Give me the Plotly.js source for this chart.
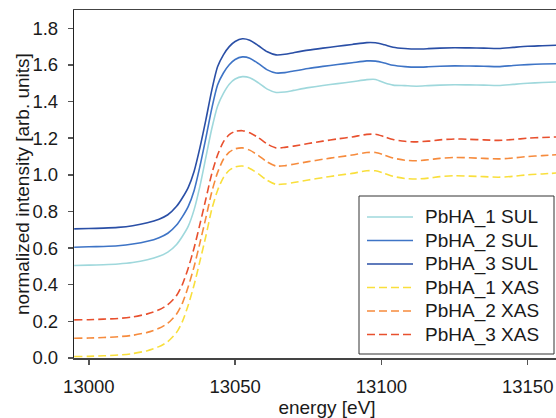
<!DOCTYPE html>
<html>
<head>
<meta charset="utf-8">
<script src="https://cdn.plot.ly/plotly-3.0.1.min.js"></script>
<style>
html,body{margin:0;padding:0;overflow:hidden;background:#fff;}
#chart{width:600px;height:418px;}
</style>
</head>
<body>
<div id="chart"></div>
<script>
const energy = [12995,13000,13005,13010,13015,13020,13024,13027,13030,13032,13034,13036,13038,13040,13042,13044,13046,13048,13050,13052.5,13055,13058,13061,13064,13067,13070,13075,13080,13085,13090,13095,13098,13101,13104,13108,13112,13116,13120,13125,13130,13135,13140,13145,13150,13155,13160];

const pbha1Sul = [0.505,0.507,0.509,0.513,0.521,0.536,0.555,0.578,0.620,0.665,0.720,0.810,0.940,1.095,1.250,1.375,1.445,1.495,1.523,1.536,1.530,1.502,1.468,1.450,1.452,1.461,1.476,1.488,1.498,1.508,1.520,1.521,1.503,1.490,1.487,1.484,1.487,1.490,1.492,1.491,1.490,1.488,1.494,1.500,1.504,1.507];
const pbha2Sul = [0.605,0.607,0.609,0.613,0.622,0.637,0.657,0.681,0.726,0.772,0.828,0.915,1.048,1.200,1.360,1.490,1.556,1.601,1.630,1.644,1.637,1.607,1.573,1.556,1.558,1.567,1.581,1.592,1.602,1.612,1.622,1.621,1.611,1.598,1.591,1.588,1.590,1.593,1.595,1.594,1.593,1.591,1.597,1.602,1.605,1.607];
const pbha3Sul = [0.705,0.707,0.709,0.713,0.722,0.738,0.758,0.782,0.828,0.875,0.932,1.020,1.150,1.300,1.460,1.590,1.655,1.700,1.728,1.743,1.735,1.705,1.672,1.655,1.658,1.667,1.681,1.692,1.702,1.712,1.722,1.721,1.710,1.697,1.690,1.687,1.689,1.692,1.694,1.693,1.692,1.690,1.696,1.702,1.705,1.708];
const pbha1Xas = [0.008,0.009,0.012,0.016,0.024,0.040,0.062,0.090,0.140,0.200,0.290,0.400,0.530,0.665,0.810,0.915,0.985,1.025,1.043,1.048,1.035,1.005,0.970,0.948,0.950,0.958,0.972,0.985,0.997,1.008,1.022,1.022,1.008,0.992,0.980,0.977,0.982,0.990,0.995,0.993,0.990,0.987,0.992,1.000,1.005,1.010];
const pbha2Xas = [0.108,0.109,0.112,0.116,0.124,0.140,0.162,0.190,0.240,0.300,0.390,0.500,0.630,0.765,0.905,1.012,1.085,1.124,1.142,1.147,1.135,1.105,1.070,1.048,1.050,1.058,1.072,1.085,1.097,1.108,1.122,1.122,1.108,1.092,1.080,1.077,1.082,1.090,1.095,1.093,1.090,1.087,1.092,1.100,1.105,1.110];
const pbha3Xas = [0.208,0.209,0.212,0.216,0.224,0.241,0.263,0.291,0.341,0.402,0.492,0.602,0.732,0.868,1.005,1.108,1.180,1.220,1.237,1.241,1.230,1.202,1.168,1.147,1.150,1.157,1.171,1.184,1.196,1.207,1.221,1.222,1.208,1.193,1.183,1.180,1.184,1.191,1.196,1.194,1.191,1.188,1.193,1.200,1.204,1.207];

const seriesNames = ['PbHA_1 SUL','PbHA_2 SUL','PbHA_3 SUL','PbHA_1 XAS','PbHA_2 XAS','PbHA_3 XAS'];
const seriesValues = [pbha1Sul,pbha2Sul,pbha3Sul,pbha1Xas,pbha2Xas,pbha3Xas];
const seriesColors = ['#9fd8dc','#3e74c6','#2a4fa6','#f9df3c','#f68b3d','#e8502e'];
const seriesDash = ['solid','solid','solid','8px,4px','8px,4px','8px,4px'];

const xTicks = [13000,13050,13100,13150];
const yTicks = [0,0.2,0.4,0.6,0.8,1.0,1.2,1.4,1.6,1.8];

const FONT = 'Liberation Sans, Arial, sans-serif';
const TXT = '#1a1a1a';

// plot-area geometry in pixels (used only to place legend/title in paper coords)
const PL = 74, PW = 506, PT = 10, PH = 348;
const px2x = p => (p - PL) / PW;
const px2y = p => (PT + PH - p) / PH;

const traces = seriesNames.map((n,i)=>({
  type:'scatter', mode:'lines', name:n, x:energy, y:seriesValues[i],
  line:{color:seriesColors[i], width:1.6, dash:seriesDash[i], shape:'spline', smoothing:0.7},
  showlegend:false
}));

// custom legend (box, line samples, labels)
const shapes = [{
  type:'rect', xref:'paper', yref:'paper', layer:'above',
  x0:px2x(359), x1:px2x(554), y0:px2y(354), y1:px2y(196),
  line:{color:'#333', width:1}, fillcolor:'#fff'
}];
const annotations = [];
seriesNames.forEach((n,i)=>{
  const yc = px2y(217 + i*23.5);
  shapes.push({type:'line', xref:'paper', yref:'paper', layer:'above',
    x0:px2x(367), x1:px2x(413), y0:yc, y1:yc,
    line:{color:seriesColors[i], width:1.6, dash:seriesDash[i]}});
  annotations.push({xref:'paper', yref:'paper', x:px2x(423), y:yc, xanchor:'left', yanchor:'middle',
    text:n, showarrow:false, font:{family:FONT, size:19, color:TXT}});
});
annotations.push({xref:'paper', yref:'paper', x:px2x(22), y:0.5, xanchor:'center', yanchor:'middle',
  textangle:-90, text:'normalized intensity [arb. units]', showarrow:false,
  font:{family:FONT, size:19, color:TXT}});

const layout = {
  width:600, height:418,
  margin:{l:PL, r:600-PL-PW, t:PT, b:418-PT-PH},
  paper_bgcolor:'#fff', plot_bgcolor:'#fff',
  font:{family:FONT, size:18.5, color:TXT},
  showlegend:false,
  xaxis:{
    range:[12994.94, 12994.94 + PW/2.926],
    tickvals:xTicks, ticktext:xTicks.map(String),
    ticks:'outside', ticklen:5, tickwidth:1.5, tickcolor:'#555',
    showline:true, linecolor:'#444', linewidth:1.5, mirror:true,
    showgrid:false, zeroline:false,
    tickfont:{family:FONT, size:18.5, color:TXT},
    ticklabelstandoff:6,
    title:{text:'energy [eV]', font:{family:FONT, size:19, color:TXT}, standoff:2},
    automargin:false
  },
  yaxis:{
    range:[0,1.9],
    tickvals:yTicks, ticktext:yTicks.map(v=>v.toFixed(1)),
    ticks:'outside', ticklen:5, tickwidth:1.5, tickcolor:'#555',
    showline:true, linecolor:'#222', linewidth:1.2,
    showgrid:false, zeroline:false,
    tickfont:{family:FONT, size:18.5, color:TXT},
    ticklabelstandoff:6,
    automargin:false
  },
  shapes:shapes,
  annotations:annotations
};

Plotly.newPlot('chart', traces, layout, {displayModeBar:false, staticPlot:true});
</script>
</body>
</html>
